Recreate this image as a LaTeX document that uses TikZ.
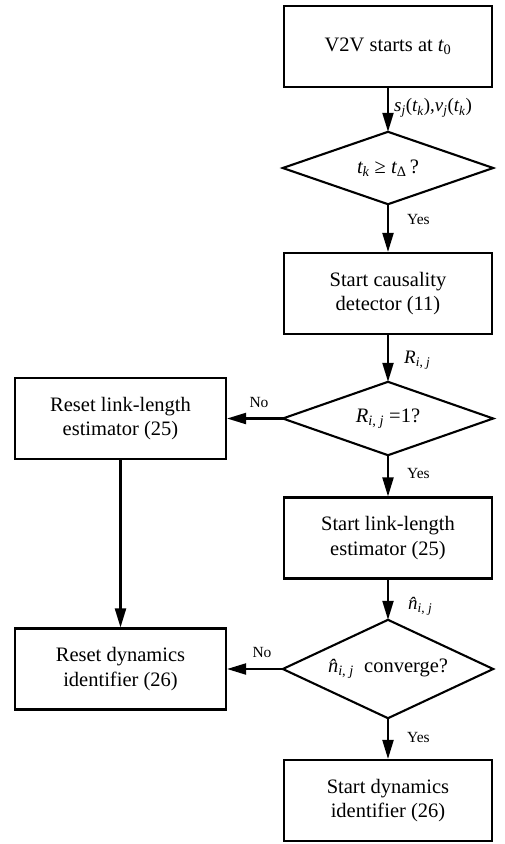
\documentclass[tikz,border=0pt]{standalone}
\usepackage{amsmath}
\usepackage{fontspec}
\setmainfont{Liberation Serif}
\usetikzlibrary{arrows.meta}
\newcommand{\vit}[1]{\textit{#1}}
\begin{document}
\begin{tikzpicture}[x=1pt,y=-1pt,
  font=\fontsize{20.5}{24.5}\selectfont,
  proc/.style={draw, line width=2.1pt, minimum width=208pt, minimum height=81pt, align=center, inner sep=0pt},
  decision/.style={minimum width=210pt, inner sep=0pt, align=center},
  dshape/.style={line width=2.1pt, line join=miter},
  flow/.style={line width=2.1pt, -{Triangle[length=19pt,width=11pt]}},
  lbl/.style={font=\fontsize{15.5}{18}\selectfont, inner sep=0pt},
  vlbl/.style={font=\fontsize{19}{22}\selectfont, inner sep=0pt},
  ]
\useasboundingbox (0,0) rectangle (505,844);
% main column
\node[proc] (start) at (388,46.5) {V2V starts at $\vit{t}_{\text{0}}$};
\node[decision, minimum height=72pt] (d1) at (388,168) {$\vit{t}_{\vit{k}}$ ≥ $\vit{t}_{\text{Δ}}$\,?};
\node[proc] (caus) at (388,293.5) {Start causality\\detector (11)};
\node[decision, minimum height=73pt] (d2) at (388,418.5) {$\vit{R}_{\vit{i}\text{, }\vit{j}}$ =1?};
\node[proc] (est) at (388,538) {Start link-length\\estimator (25)};
\node[decision, minimum height=98pt] (d3) at (388,669) {$\vit{\^{n}}_{\vit{i}\text{, }\vit{j}}$\ \ converge?};
\node[proc] (dyn) at (388,800.5) {Start dynamics\\identifier (26)};
% left column
\node[proc, minimum width=211pt] (rl) at (120.5,418.5) {Reset link-length\\estimator (25)};
\node[proc, minimum width=211pt] (rd) at (120.5,669) {Reset dynamics\\identifier (26)};
% diamonds
\draw[dshape] (d1.north) -- (d1.east) -- (d1.south) -- (d1.west) -- cycle;
\draw[dshape] (d2.north) -- (d2.east) -- (d2.south) -- (d2.west) -- cycle;
\draw[dshape] (d3.north) -- (d3.east) -- (d3.south) -- (d3.west) -- cycle;
% connectors
\draw[flow] (start.south) -- (d1.north);
\draw[flow] (d1.south) -- (caus.north);
\draw[flow] (caus.south) -- (d2.north);
\draw[flow] (d2.south) -- (est.north);
\draw[flow] (est.south) -- (d3.north);
\draw[flow] (d3.south) -- (dyn.north);
\draw[flow] (d2.west) -- (rl.east);
\draw[flow] (rl.south) -- (rd.north);
\draw[flow] (d3.west) -- (rd.east);
% labels
\node[vlbl, anchor=west] (lsv) at (394,108) {$\vit{s}_{\vit{j}}$($\vit{t}_{\vit{k}}$),$\vit{v}_{\vit{j}}$($\vit{t}_{\vit{k}}$)};
\node[lbl, anchor=west] (y1) at (407,219) {Yes};
\node[vlbl, anchor=west] (lr) at (404,360) {$\vit{R}_{\vit{i}\text{, }\vit{j}}$};
\node[lbl] (n1) at (259,402) {No};
\node[lbl, anchor=west] (y2) at (407,473) {Yes};
\node[vlbl, anchor=west] (ln) at (408,606) {$\vit{\^{n}}_{\vit{i}\text{, }\vit{j}}$};
\node[lbl] (n2) at (262,652) {No};
\node[lbl, anchor=west] (y3) at (407,737) {Yes};
\end{tikzpicture}
\end{document}
